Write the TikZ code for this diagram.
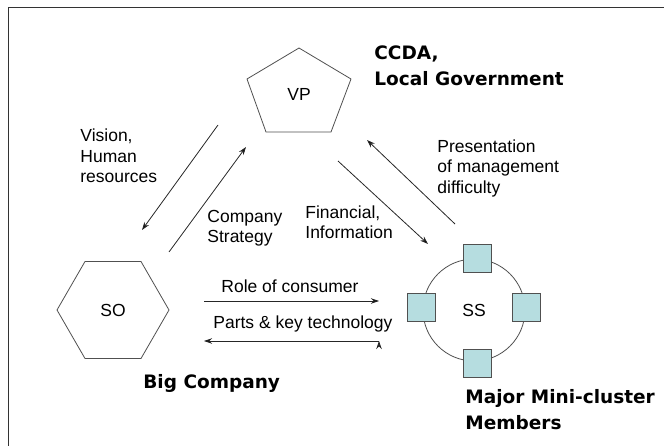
\documentclass[tikz,border=0pt]{standalone}
\usepackage{fontspec}
\setmainfont{Liberation Sans}
\newfontfamily\headfont{DejaVu Sans}
\usetikzlibrary{arrows.meta,shapes.geometric}
\definecolor{memberfill}{RGB}{182,221,224}
\definecolor{linegray}{RGB}{80,80,80}

\begin{document}
\begin{tikzpicture}[x=1pt,y=-1pt,>={Stealth[length=8pt,width=5.5pt]},line width=0.8pt]
\tikzstyle{flowtext}=[font=\fontsize{17.5}{20.5}\selectfont,align=left,anchor=west,inner sep=0pt]
\tikzstyle{grouptext}=[font=\headfont\bfseries\fontsize{18.5}{26}\selectfont,align=left,anchor=west,inner sep=0pt]
\tikzstyle{member}=[shape=rectangle,draw=linegray,fill=memberfill,minimum size=28pt,inner sep=0pt]
\tikzstyle{flow}=[->,draw=black!85]
\useasboundingbox (0,0) rectangle (664,446);
\draw[black!80] (8,446) -- (8,7) -- (664,7);
% actors
\node[font=\fontsize{17.5}{20}\selectfont] (vp) at (299,94) {VP};
\draw[linegray] ([shift={(0,-46)}]vp.center) -- ++(52,31) -- ++(-20,53) -- ++(-65,0) -- ++(-19,-53) -- cycle;
\node[shape=regular polygon,regular polygon sides=6,minimum size=112pt,draw=linegray,font=\fontsize{17.5}{20}\selectfont] (so) at (113,310) {SO};
\node[shape=circle,draw=linegray,minimum size=102pt,font=\fontsize{17.5}{20}\selectfont] (ss) at (474,310) {SS};
\node[member] (mtop) at (477,258) {};
\node[member] (mleft) at (421,307) {};
\node[member] (mright) at (526,307) {};
\node[member] (mbottom) at (477,363) {};
% captions
\node[grouptext] (gov) at (374,66) {CCDA,\\Local Government};
\node[grouptext] (big) at (143,383) {Big Company};
\node[grouptext] (mini) at (465,410) {Major Mini-cluster\\Members};
\node[flowtext] (vision) at (80,156) {Vision,\\Human\\resources};
\node[flowtext] (strategy) at (207,228) {Company\\Strategy};
\node[flowtext] (finance) at (305,222) {Financial,\\Information};
\node[flowtext] (present) at (437,168) {Presentation\\of management\\difficulty};
\node[flowtext] (role) at (221,286) {Role of consumer};
\node[flowtext] (parts) at (213,324) {Parts \& key technology};
% flows
\coordinate (v1) at (218,125); \coordinate (v2) at (142,230);
\coordinate (s1) at (169,252); \coordinate (s2) at (246,147);
\coordinate (f1) at (338,161); \coordinate (f2) at (428,244);
\coordinate (p1) at (455,224); \coordinate (p2) at (367,140);
\coordinate (r1) at (204,301); \coordinate (r2) at (379,301);
\coordinate (k1) at (379,341); \coordinate (k2) at (204,341);
\path[flow] (v1) edge (v2)
	(s1) edge (s2)
	(f1) edge (f2)
	(p1) edge (p2)
	(r1) edge (r2)
	(k1) edge (k2);
\end{tikzpicture}
\end{document}
